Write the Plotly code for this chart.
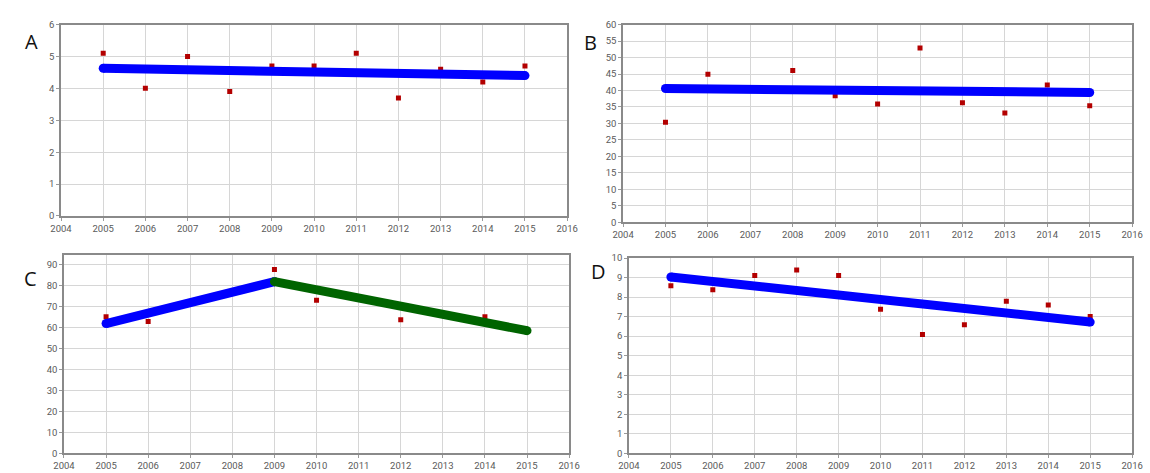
import plotly.graph_objects as go

# Years shared by all four panels
years = [2005, 2006, 2007, 2008, 2009, 2010, 2011, 2012, 2013, 2014, 2015]
x_ticks = list(range(2004, 2017))

# Panel A: observations and linear trend
a_values = [5.1, 4.0, 5.0, 3.9, 4.7, 4.7, 5.1, 3.7, 4.6, 4.2, 4.7]
a_trend_x = [2005, 2015]
a_trend_y = [4.63, 4.40]

# Panel B: observations and linear trend
b_values = [30.4, 44.9, 40.3, 46.1, 38.4, 35.9, 52.9, 36.3, 33.2, 41.7, 35.4]
b_trend_x = [2005, 2015]
b_trend_y = [40.6, 39.4]

# Panel C: observations and segmented trend (rising then falling)
c_years = [2005, 2006, 2009, 2010, 2012, 2014]
c_values = [65.2, 63.0, 87.8, 73.1, 63.8, 65.2]
c_rise_x = [2005, 2009]
c_rise_y = [62.0, 82.0]
c_fall_x = [2009, 2015]
c_fall_y = [82.0, 58.6]

# Panel D: observations and linear trend
d_values = [8.58, 8.38, 9.1, 9.38, 9.1, 7.38, 6.08, 6.58, 7.78, 7.6, 7.0]
d_trend_x = [2005, 2015]
d_trend_y = [9.03, 6.72]

W, H = 1150, 473
BLUE = "#0000ff"
GREEN = "#006400"
RED = "#b30000"
LINE_W = 9


def dom_x(x0, x1):
    return [x0 / W, x1 / W]


def dom_y(top, bottom):
    return [1 - bottom / H, 1 - top / H]


fig = go.Figure()


def trend(xs, ys, color, ax):
    fig.add_trace(go.Scatter(
        x=xs, y=ys, mode="lines+markers", xaxis="x" + ax, yaxis="y" + ax,
        line=dict(color=color, width=LINE_W),
        marker=dict(color=color, size=LINE_W, line=dict(width=0)),
        hoverinfo="skip", showlegend=False,
    ))


def points(xs, ys, ax):
    fig.add_trace(go.Scatter(
        x=xs, y=ys, mode="markers", xaxis="x" + ax, yaxis="y" + ax,
        marker=dict(symbol="square", color=RED, size=5, line=dict(width=0)),
        showlegend=False,
    ))


# Observations first; the thick trend lines are painted over them
points(years, a_values, "")
trend(a_trend_x, a_trend_y, BLUE, "")
points(years, b_values, "2")
trend(b_trend_x, b_trend_y, BLUE, "2")
points(c_years, c_values, "3")
trend(c_rise_x, c_rise_y, BLUE, "3")
trend(c_fall_x, c_fall_y, GREEN, "3")
points(years, d_values, "4")
trend(d_trend_x, d_trend_y, BLUE, "4")

tick_font = dict(family="Roboto", size=9.5, color="#5a5a5a")
frame = dict(showline=True, mirror=True, linecolor="#8a8a8a", linewidth=1.5,
             showgrid=True, gridcolor="#d6d6d6", gridwidth=1,
             ticks="outside", ticklen=3, tickcolor="#9a9a9a",
             tickfont=tick_font, zeroline=False, fixedrange=True)


def xaxis(domain, anchor):
    return dict(domain=domain, anchor=anchor, range=[2004, 2016],
                tickmode="array", tickvals=x_ticks,
                ticktext=[str(t) for t in x_ticks], **frame)


def yaxis(domain, anchor, rng, step):
    return dict(domain=domain, anchor=anchor, range=rng, dtick=step,
                tick0=0, **frame)


fig.update_layout(
    width=W, height=H,
    margin=dict(l=0, r=0, t=0, b=0),
    paper_bgcolor="white", plot_bgcolor="white",
    xaxis=xaxis(dom_x(51, 567), "y"),
    yaxis=yaxis(dom_y(19, 215), "x", [0, 6], 1),
    xaxis2=xaxis(dom_x(624, 1143), "y2"),
    yaxis2=yaxis(dom_y(19, 221.5), "x2", [0, 60], 5),
    xaxis3=xaxis(dom_x(54, 569), "y3"),
    yaxis3=yaxis(dom_y(255, 458), "x3", [0, 94.7], 10),
    xaxis4=xaxis(dom_x(630, 1143), "y4"),
    yaxis4=yaxis(dom_y(258, 458), "x4", [0, 10], 1),
)

label_font = dict(family="Open Sans", size=20, color="#111111")
for text, px, py in [("A", 21, 36), ("B", 591, 37), ("C", 20, 279), ("D", 599, 272)]:
    fig.add_annotation(text=text, xref="paper", yref="paper",
                       x=px / W, y=1 - py / H, xanchor="center", yanchor="middle",
                       showarrow=False, font=label_font)

fig.write_html("out.html")
